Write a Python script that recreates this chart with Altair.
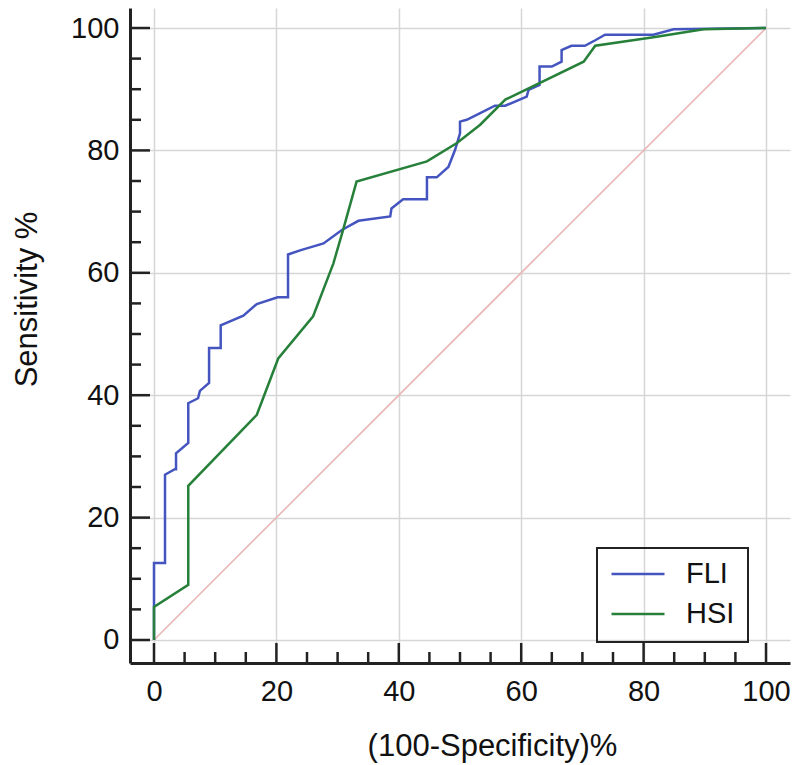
import altair as alt
import pandas as pd

# ---- data ----
fli_x = [0, 0, 1.8, 1.8, 3.4, 3.6, 3.6, 5.6, 5.6, 7.2, 7.5, 9.0, 9.0, 10.9, 10.9,
         14.6, 16.8, 20.2, 21.9, 21.9, 24.0, 27.7, 30.7, 33.4, 38.6, 38.8, 40.7,
         44.6, 44.6, 46.2, 48.1, 49.2, 50.0, 50.0, 51.1, 53.3, 55.7, 57.4, 60.9,
         61.2, 63.0, 63.0, 65.0, 66.6, 66.6, 68.2, 70.4, 72.1, 73.7, 81.6, 84.9, 100]
fli_y = [0, 12.6, 12.6, 27.0, 27.9, 27.9, 30.5, 32.2, 38.7, 39.5, 40.7, 42.0, 47.7, 47.7, 51.4,
         53.0, 54.9, 56.0, 56.0, 63.0, 63.7, 64.8, 67.0, 68.5, 69.2, 70.5, 72.0,
         72.0, 75.6, 75.6, 77.3, 80.1, 82.8, 84.7, 85.0, 86.1, 87.3, 87.3, 88.8,
         89.9, 90.7, 93.7, 93.7, 94.5, 96.4, 97.1, 97.1, 98.0, 98.9, 98.9, 99.8, 100]
hsi_x = [0, 0, 5.6, 5.6, 16.8, 20.3, 26.0, 29.3, 30.9, 33.1, 44.6, 49.5, 53.3,
         57.4, 70.2, 72.1, 81.6, 89.8, 100]
hsi_y = [0, 5.4, 9.0, 25.2, 36.8, 46.0, 52.9, 61.5, 67.0, 74.9, 78.2, 81.2, 84.2,
         88.3, 94.5, 97.1, 98.5, 99.8, 100]
diag_x = [0, 100]
diag_y = [0, 100]

series = ["FLI", "HSI"]
colors = ["#4555c0", "#26803a"]
major_ticks = [0, 20, 40, 60, 80, 100]
minor_ticks = [5, 10, 15, 25, 30, 35, 45, 50, 55, 65, 70, 75, 85, 90, 95]

rows = []
for i, (x, y) in enumerate(zip(fli_x, fli_y)):
    rows.append({"series": "FLI", "x": x, "y": y, "i": i})
for i, (x, y) in enumerate(zip(hsi_x, hsi_y)):
    rows.append({"series": "HSI", "x": x, "y": y, "i": i})
df = pd.DataFrame(rows)
diag = pd.DataFrame({"x": diag_x, "y": diag_y})

W, H = 660, 655
xdom = [-3.92, 103.92]
ydom = [-3.76, 103.27]
FONT = "Liberation Sans"
FS = 29
TFS = 31
TXT = "#111111"
AX = "#222222"
MAJ, MIN = 20, 11

xscale = alt.Scale(domain=xdom, nice=False, zero=False)
yscale = alt.Scale(domain=ydom, nice=False, zero=False)

x_enc = alt.X("x:Q", scale=xscale,
              axis=alt.Axis(orient="bottom", values=major_ticks, grid=True, gridColor="#d6d6d6",
                            gridWidth=1.5, ticks=False, domain=True, domainColor=AX, domainWidth=3,
                            labelFont=FONT, labelFontSize=FS, labelColor=TXT, labelPadding=14,
                            title="(100-Specificity)%", titleFont=FONT, titleFontSize=TFS,
                            titleFontWeight="normal", titleColor=TXT, titlePadding=25,
                            titleX=362, titleAlign="center"))
y_enc = alt.Y("y:Q", scale=yscale,
              axis=alt.Axis(orient="left", values=major_ticks, grid=True, gridColor="#d6d6d6",
                            gridWidth=1.5, ticks=False, domain=True, domainColor=AX, domainWidth=3,
                            labelFont=FONT, labelFontSize=FS, labelColor=TXT, labelPadding=11,
                            title="Sensitivity %", titleFont=FONT, titleFontSize=TFS,
                            titleFontWeight="normal", titleColor=TXT, titlePadding=27,
                            titleY=291, titleAlign="center"))

diag_layer = alt.Chart(diag).mark_line(color="#e8b6b6", strokeWidth=1.6).encode(x=x_enc, y=y_enc)

lines = alt.Chart(df).mark_line(strokeWidth=2.5).encode(
    x=x_enc,
    y=y_enc,
    color=alt.Color("series:N", scale=alt.Scale(domain=series, range=colors),
                    legend=alt.Legend(title=None, orient="none", legendX=467, legendY=540,
                                      symbolType="stroke", symbolSize=20164, symbolStrokeWidth=2.5,
                                      symbolDash=[53, 400], clipHeight=26,
                                      labelFont=FONT, labelFontSize=FS, labelColor=TXT,
                                      labelOffset={"expr": "-69"}, padding=13, rowPadding=11,
                                      strokeColor=AX)),
    order=alt.Order("i:Q"),
)

# inward axis ticks (major every 20, minor every 5)
xt_major = alt.Chart(pd.DataFrame({"x": major_ticks})).mark_rule(color=AX, strokeWidth=2.5).encode(
    x=x_enc, y=alt.value(H), y2=alt.value(H - MAJ))
xt_minor = alt.Chart(pd.DataFrame({"x": minor_ticks})).mark_rule(color=AX, strokeWidth=2.5).encode(
    x=x_enc, y=alt.value(H), y2=alt.value(H - MIN))
yt_major = alt.Chart(pd.DataFrame({"y": major_ticks})).mark_rule(color=AX, strokeWidth=2.5).encode(
    y=y_enc, x=alt.value(0), x2=alt.value(MAJ))
yt_minor = alt.Chart(pd.DataFrame({"y": minor_ticks})).mark_rule(color=AX, strokeWidth=2.5).encode(
    y=y_enc, x=alt.value(0), x2=alt.value(MIN))

chart = alt.layer(diag_layer, lines, xt_major, xt_minor, yt_major, yt_minor).properties(
    width=W, height=H,
    autosize=alt.AutoSizeParams(type="none"),
    padding={"left": 122, "top": 0, "right": 2, "bottom": 100},
    background="white",
).configure_view(strokeWidth=0).configure_legend(strokeWidth=2)

chart.save("out.html", embed_options={"renderer": "svg", "actions": False})
